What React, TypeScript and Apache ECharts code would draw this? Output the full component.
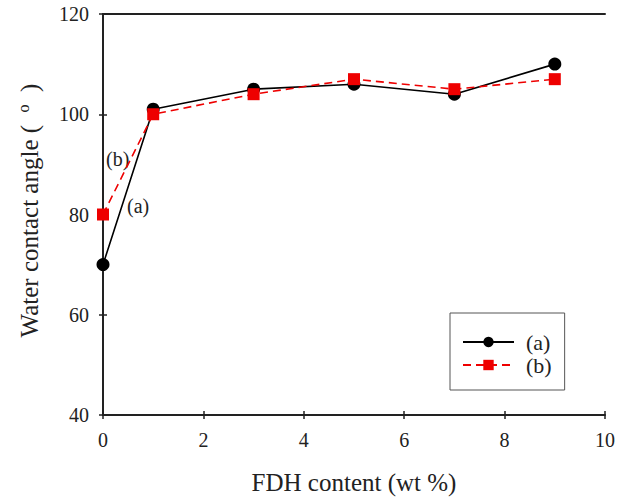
import React, { useEffect, useRef } from "react";
import * as echarts from "echarts";

const xValues = [0, 1, 3, 5, 7, 9];
const seriesA = [70, 101, 105, 106, 104, 110];
const seriesB = [80, 100, 104, 107, 105, 107];
const xTicks = [0, 2, 4, 6, 8, 10];
const yTicks = [40, 60, 80, 100, 120];

const FONT = "'Liberation Serif', 'Times New Roman', serif";

export default function App() {
  const ref = useRef<HTMLDivElement>(null);
  useEffect(() => {
    document.body.style.margin = "0";
    document.body.style.overflow = "hidden";
    if (!ref.current) return;
    const chart = echarts.init(ref.current, undefined, { renderer: "svg" });
    const axisLine = { show: true, lineStyle: { color: "#222", width: 2 } };
    const tickStyle = { color: "#222", width: 1.5 };
    chart.setOption({
      animation: false,
      backgroundColor: "#fff",
      grid: { left: 103, right: 24, top: 14, bottom: 84, show: false },
      legend: {
        orient: "vertical",
        left: 450,
        top: 313,
        padding: [18, 13, 14, 12],
        itemGap: 1,
        itemWidth: 51,
        itemHeight: 13,
        borderColor: "#555",
        borderWidth: 1,
        textStyle: { fontFamily: FONT, fontSize: 22, lineHeight: 22, color: "#222", padding: [0, 0, 0, 7] },
        data: ["(a)", "(b)"],
      },
      xAxis: [
        {
          type: "value",
          min: 0,
          max: 10,
          interval: 2,
          name: "FDH content (wt %)",
          nameLocation: "middle",
          nameGap: 55,
          nameTextStyle: { fontFamily: FONT, fontSize: 25, color: "#222" },
          axisLine,
          axisTick: { show: true, length: 4, lineStyle: tickStyle },
          axisLabel: { fontFamily: FONT, fontSize: 20, color: "#222", margin: 15, customValues: xTicks },
          splitLine: { show: false },
        },
        {
          type: "value",
          position: "top",
          min: 0,
          max: 10,
          axisLine,
          axisTick: { show: false },
          axisLabel: { show: false },
          splitLine: { show: false },
        },
        {
          type: "value",
          position: "bottom",
          min: 0,
          max: 10,
          interval: 2,
          axisLine: { show: false },
          axisTick: { show: true, inside: true, length: 4, lineStyle: tickStyle },
          axisLabel: { show: false },
          splitLine: { show: false },
        },
      ],
      yAxis: [
        {
          type: "value",
          min: 40,
          max: 120,
          interval: 20,
          name: "Water contact angle (  {sup|o}  )",
          nameLocation: "middle",
          nameGap: 59,
          nameTextStyle: {
            fontFamily: FONT,
            fontSize: 25,
            color: "#222",
            padding: [0, 0, 0, 8],
            rich: { sup: { fontFamily: FONT, fontSize: 16, verticalAlign: "top", padding: [0, 0, 13, 0], color: "#222" } },
          },
          axisLine,
          axisTick: { show: true, length: 4, lineStyle: tickStyle },
          axisLabel: { fontFamily: FONT, fontSize: 20, color: "#222", margin: 14, customValues: yTicks },
          splitLine: { show: false },
        },
        {
          type: "value",
          position: "right",
          min: 40,
          max: 120,
          axisLine,
          axisTick: { show: false },
          axisLabel: { show: false },
          splitLine: { show: false },
        },
        {
          type: "value",
          position: "left",
          min: 40,
          max: 120,
          interval: 20,
          axisLine: { show: false },
          axisTick: { show: true, inside: true, length: 4, lineStyle: tickStyle },
          axisLabel: { show: false },
          splitLine: { show: false },
        },
      ],
      series: [
        {
          name: "(a)",
          type: "line",
          data: xValues.map((x, i) => [x, seriesA[i]]),
          symbol: "circle",
          symbolSize: 13,
          itemStyle: { color: "#000" },
          lineStyle: { color: "#000", width: 1.6 },
          z: 3,
        },
        {
          name: "(b)",
          type: "line",
          data: xValues.map((x, i) => [x, seriesB[i]]),
          symbol: "rect",
          symbolSize: 12,
          itemStyle: { color: "#ee0000" },
          lineStyle: { color: "#ee0000", width: 1.6, type: [8, 5] },
          z: 4,
        },
      ],
      graphic: [
        { type: "text", left: 106, top: 149, style: { text: "(b)", fontFamily: FONT, fontSize: 20, fill: "#222" } },
        { type: "text", left: 127, top: 196, style: { text: "(a)", fontFamily: FONT, fontSize: 20, fill: "#222" } },
      ],
    });
    return () => chart.dispose();
  }, []);
  return <div ref={ref} style={{ width: 629, height: 500 }} />;
}
